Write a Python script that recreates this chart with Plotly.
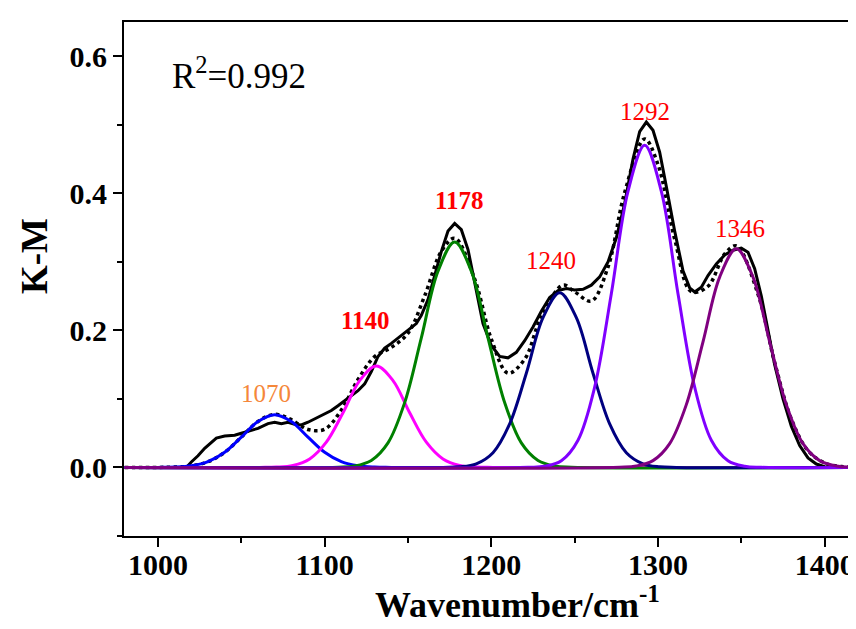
import plotly.graph_objects as go

# ---- data ----
# measured spectrum (black solid)
exp_x = [980, 990, 1000, 1010, 1017, 1020, 1024, 1028, 1032, 1035, 1040, 1046, 1050, 1054, 1060,
         1066, 1070, 1074, 1078, 1082, 1086, 1090, 1095, 1100, 1104, 1108, 1112, 1116, 1120, 1124,
         1128, 1132, 1136, 1140, 1146, 1150, 1155, 1158, 1162, 1166, 1170, 1174, 1178, 1182, 1186,
         1190, 1195, 1200, 1205, 1210, 1215, 1220, 1225, 1230, 1235, 1240, 1245, 1250, 1255, 1260,
         1265, 1270, 1275, 1280, 1285, 1289, 1293, 1297, 1301, 1305, 1310, 1315, 1319, 1322, 1326,
         1330, 1335, 1340, 1345, 1350, 1354, 1358, 1362, 1366, 1370, 1375, 1380, 1385, 1390, 1395,
         1400, 1410, 1425]
exp_y = [0, 0, 0, 0, 0.0, 0.008, 0.017, 0.028, 0.037, 0.043, 0.046, 0.047, 0.050, 0.053, 0.057,
         0.064, 0.066, 0.064, 0.066, 0.063, 0.062, 0.066, 0.072, 0.079, 0.083, 0.090, 0.097, 0.104, 0.112, 0.122,
         0.140, 0.162, 0.174, 0.181, 0.193, 0.200, 0.210, 0.222, 0.245, 0.280, 0.315, 0.345, 0.356, 0.347, 0.318,
         0.270, 0.210, 0.178, 0.162, 0.160, 0.168, 0.185, 0.205, 0.228, 0.248, 0.258, 0.261, 0.259, 0.260, 0.266,
         0.278, 0.300, 0.335, 0.385, 0.450, 0.490, 0.504, 0.492, 0.460, 0.410, 0.345, 0.287, 0.262, 0.256, 0.263,
         0.280, 0.297, 0.310, 0.317, 0.320, 0.314, 0.290, 0.250, 0.200, 0.150, 0.100, 0.060, 0.032, 0.014, 0.005,
         0.001, 0, 0]

# cumulative fit (black dotted)
fit_x = [980, 1000, 1010, 1020, 1030, 1040, 1050, 1060, 1070, 1080, 1090, 1100, 1110, 1120, 1130,
         1140, 1150, 1160, 1170, 1178, 1190, 1200, 1210, 1220, 1230, 1243, 1250, 1260, 1270, 1280,
         1292, 1300, 1310, 1320, 1330, 1340, 1347, 1360, 1370, 1380, 1390, 1400, 1410, 1425]
fit_y = [0, 0.0001, 0.0005, 0.0024, 0.0084, 0.0221, 0.0443, 0.0671, 0.0775, 0.0697, 0.0554, 0.0558, 0.0838, 0.1283, 0.1618,
         0.1752, 0.1959, 0.2504, 0.3153, 0.3345, 0.2748, 0.1874, 0.1376, 0.1579, 0.2206, 0.2660, 0.2562, 0.2429, 0.2924, 0.4013,
         0.4794, 0.4420, 0.3332, 0.2564, 0.2644, 0.3115, 0.3234, 0.2528, 0.1533, 0.0706, 0.0246, 0.0065, 0.0013, 0]

# fitted component peaks
p1070_x = [980, 1000, 1010, 1020, 1030, 1040, 1050, 1060, 1070, 1080, 1090, 1100, 1110, 1120, 1130, 1140, 1425]
p1070_y = [0, 0.0001, 0.0005, 0.0024, 0.0084, 0.0221, 0.0443, 0.0670, 0.077, 0.0670, 0.0443, 0.0221, 0.0084, 0.0024, 0.0005, 0.0001, 0]

p1140_x = [980, 1061, 1071, 1081, 1091, 1101, 1111, 1121, 1131, 1141, 1151, 1161, 1171, 1181, 1191, 1201, 1425]
p1140_y = [0, 0.0001, 0.0006, 0.0031, 0.0125, 0.0369, 0.0798, 0.1268, 0.148, 0.1268, 0.0798, 0.0369, 0.0125, 0.0031, 0.0006, 0.0001, 0]

p1178_x = [980, 1108, 1118, 1128, 1138, 1148, 1158, 1168, 1178, 1188, 1198, 1208, 1218, 1228, 1238, 1248, 1425]
p1178_y = [0, 0.0004, 0.0022, 0.0103, 0.0359, 0.0946, 0.1891, 0.2865, 0.329, 0.2865, 0.1891, 0.0946, 0.0359, 0.0103, 0.0022, 0.0004, 0]

p1240_x = [980, 1171, 1181, 1191, 1201, 1211, 1221, 1231, 1241, 1251, 1261, 1271, 1281, 1291, 1301, 1311, 1425]
p1240_y = [0, 0.0001, 0.0010, 0.0054, 0.0216, 0.0636, 0.1375, 0.2185, 0.255, 0.2185, 0.1375, 0.0636, 0.0216, 0.0054, 0.0010, 0.0001, 0]

p1292_x = [980, 1222, 1232, 1242, 1252, 1262, 1272, 1282, 1292, 1302, 1312, 1322, 1332, 1342, 1352, 1362, 1425]
p1292_y = [0, 0.0002, 0.0018, 0.0099, 0.0398, 0.1172, 0.2535, 0.4028, 0.47, 0.4028, 0.2535, 0.1172, 0.0398, 0.0099, 0.0018, 0.0002, 0]

p1346_x = [980, 1277, 1287, 1297, 1307, 1317, 1327, 1337, 1347, 1357, 1367, 1377, 1387, 1397, 1407, 1417, 1425]
p1346_y = [0, 0.0004, 0.0022, 0.0100, 0.0348, 0.0917, 0.1833, 0.2778, 0.319, 0.2778, 0.1833, 0.0917, 0.0348, 0.0100, 0.0022, 0.0004, 0]

peak_labels = ["1070", "1140", "1178", "1240", "1292", "1346"]
label_x = [1064.8, 1124.2, 1180.6, 1235.8, 1292.2, 1349.2]
label_y = [0.108, 0.2145, 0.389, 0.302, 0.52, 0.348]
label_bold = [False, True, True, False, False, False]
label_colors = ["#F5873A", "#FF0000", "#FF0000", "#FF0000", "#FF0000", "#FF0000"]

x_ticks = [1000, 1100, 1200, 1300, 1400]
y_ticks = [0.0, 0.2, 0.4, 0.6]

comp_colors = ["#0000FF", "#FF00FF", "#008000", "#000080", "#8000FF", "#800080"]
components = [(p1070_x, p1070_y), (p1140_x, p1140_y), (p1178_x, p1178_y),
              (p1240_x, p1240_y), (p1292_x, p1292_y), (p1346_x, p1346_y)]

fig = go.Figure()
fig.add_trace(go.Scatter(x=exp_x, y=exp_y, mode="lines",
                         line=dict(color="black", width=3), showlegend=False))
fig.add_trace(go.Scatter(x=fit_x, y=fit_y, mode="lines",
                         line=dict(color="black", width=3.5, dash="dot", shape="spline"),
                         showlegend=False))
for (cx, cy), col in zip(components, comp_colors):
    fig.add_trace(go.Scatter(x=cx, y=cy, mode="lines",
                             line=dict(color=col, width=3, shape="spline", smoothing=1.0),
                             showlegend=False))

serif = "Liberation Serif, Times New Roman, serif"

annotations = []
for t, lx, ly, b, c in zip(peak_labels, label_x, label_y, label_bold, label_colors):
    annotations.append(dict(x=lx, y=ly, xref="x", yref="y", text=(f"<b>{t}</b>" if b else t),
                            showarrow=False, font=dict(family=serif, size=25, color=c),
                            xanchor="center", yanchor="middle"))
annotations.append(dict(x=162, y=66, xref="paper", yref="paper", text="R<sup>2</sup>=0.992",
                        showarrow=False, font=dict(family=serif, size=35, color="black"),
                        xanchor="left", yanchor="middle"))
annotations.append(dict(x=26, y=248, xref="paper", yref="paper", text="<b>K-M</b>", textangle=-90,
                        showarrow=False, font=dict(family=serif, size=37, color="black"),
                        xanchor="center", yanchor="middle"))
annotations.append(dict(x=509, y=619, xref="paper", yref="paper", text="<b>Wavenumber/cm<sup>-1</sup></b>",
                        showarrow=False, font=dict(family=serif, size=36, color="black"),
                        xanchor="center", yanchor="bottom"))

# convert pixel-based annotation positions to paper coordinates
L, R, T, B = 116, 0, 14, 101
W, H = 856, 629
pw, ph = W - L - R, H - T - B
for a in annotations:
    if a["xref"] == "paper":
        a["x"] = (a["x"] - L) / pw
        a["y"] = (H - B - a["y"]) / ph

fig.update_layout(
    width=W, height=H,
    margin=dict(l=L, r=R, t=T, b=B),
    plot_bgcolor="white", paper_bgcolor="white",
    annotations=annotations,
    xaxis=dict(range=[979.6, 1423.6], tickvals=x_ticks, ticktext=[str(v) for v in x_ticks],
               ticks="outside", ticklen=9, tickwidth=2, tickcolor="black", ticklabelstandoff=-8,
               showline=True, linewidth=2, linecolor="black", mirror=True,
               showgrid=False, zeroline=False,
               tickfont=dict(family=serif, size=30, color="black", weight="bold"),
               minor=dict(dtick=50, tick0=1000, ticks="outside", ticklen=5, tickwidth=2, tickcolor="black")),
    yaxis=dict(range=[-0.1, 0.65], tickvals=y_ticks, ticktext=[f"{v:.1f}" for v in y_ticks],
               ticks="outside", ticklen=9, tickwidth=2, tickcolor="black",
               showline=True, linewidth=2, linecolor="black", mirror=False,
               showgrid=False, zeroline=False,
               tickfont=dict(family=serif, size=30, color="black", weight="bold"),
               minor=dict(dtick=0.1, tick0=0, ticks="outside", ticklen=5, tickwidth=2, tickcolor="black")),
)

fig.write_html("out.html")
